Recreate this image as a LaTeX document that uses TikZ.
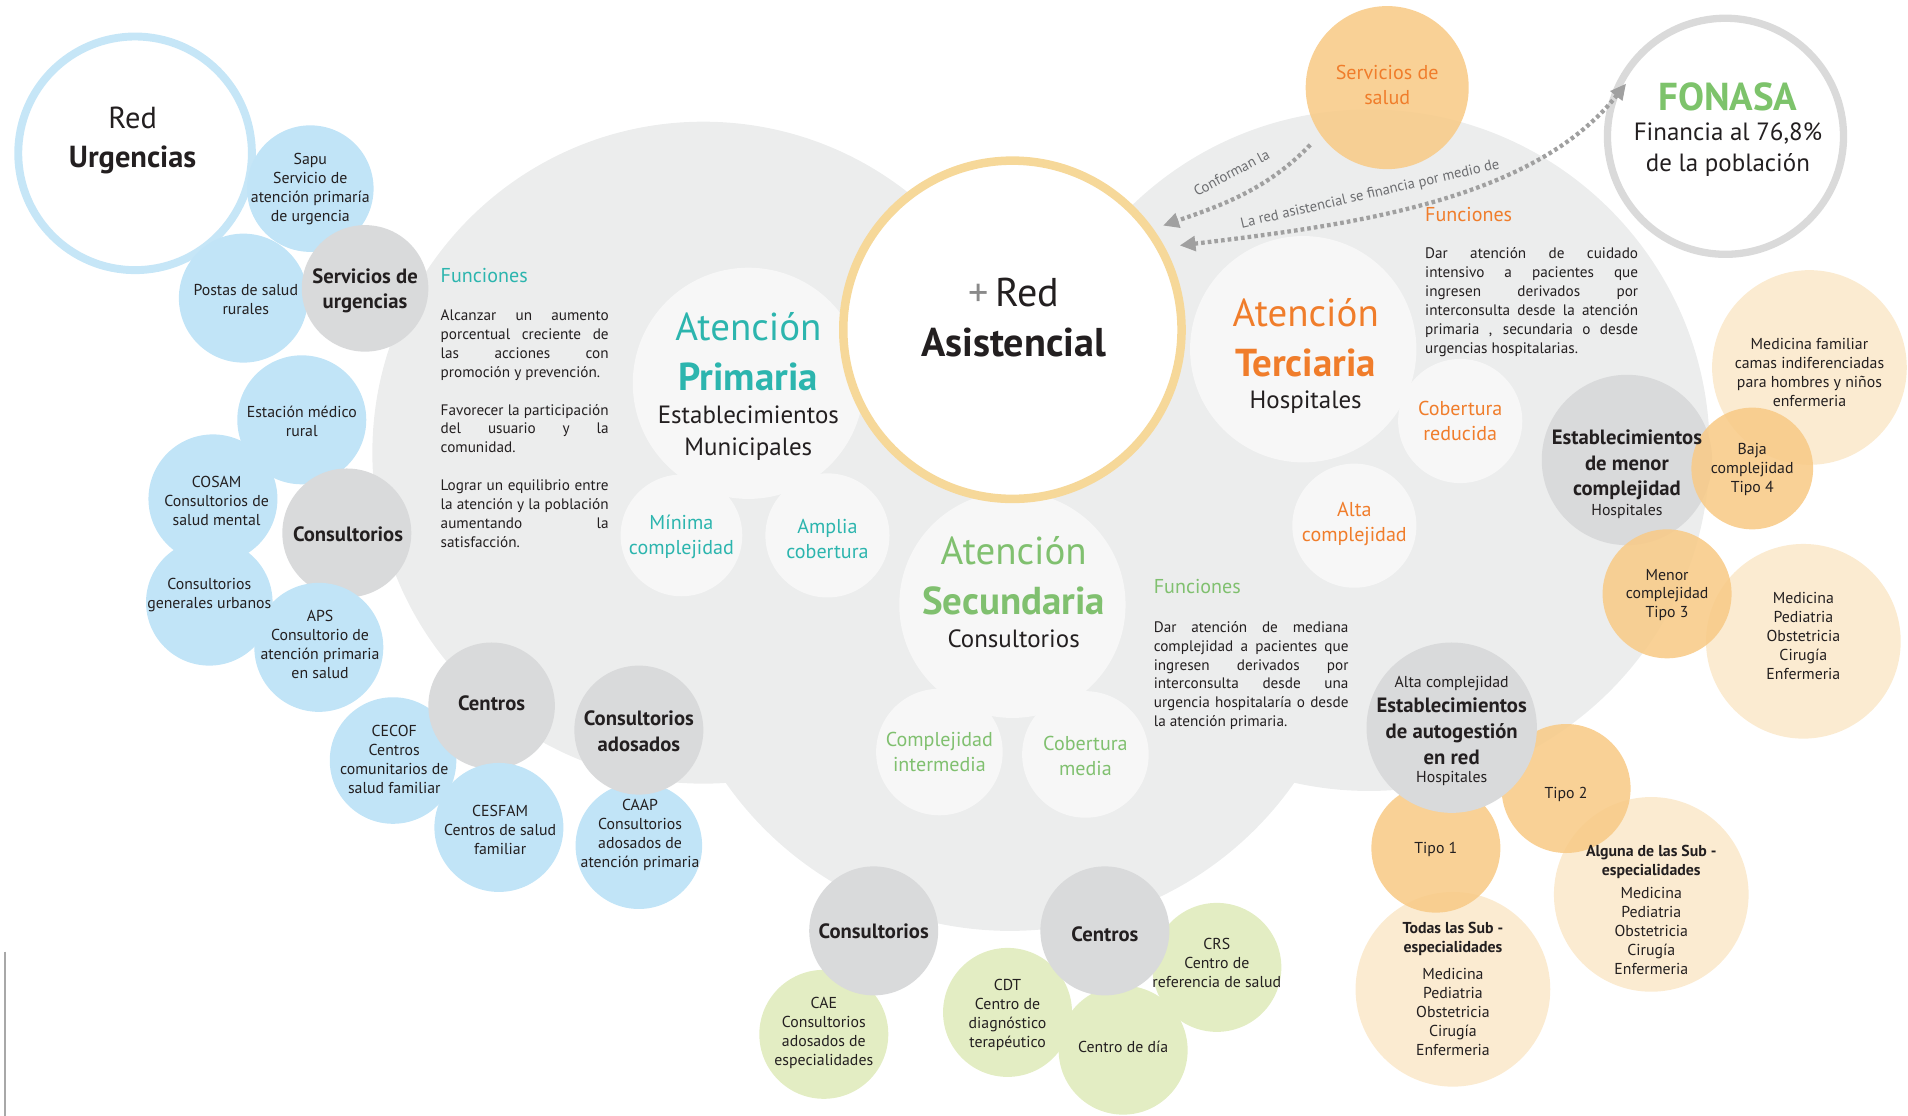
\documentclass[tikz,border=0pt]{standalone}
\usepackage{fontspec}
\setmainfont{PT Sans}
\usetikzlibrary{arrows.meta}
\definecolor{bggrey}{HTML}{ECEDED}
\definecolor{lite}{HTML}{F7F7F7}
\definecolor{dgrey}{HTML}{D9DADB}
\definecolor{cblue}{HTML}{C1E4F7}
\definecolor{ringblue}{HTML}{C6E6F7}
\definecolor{corange}{HTML}{F8CB88}
\definecolor{cpeach}{HTML}{FBEBD1}
\definecolor{cgreen}{HTML}{E3EDC3}
\definecolor{ringgold}{HTML}{F6D899}
\definecolor{ringgrey}{HTML}{DADADA}
\definecolor{cteal}{HTML}{2CB5AE}
\definecolor{cgreentxt}{HTML}{80C06F}
\definecolor{corangetxt}{HTML}{F07D2B}
\definecolor{fonasagreen}{HTML}{7DC36B}
\definecolor{ink}{HTML}{231F20}
\definecolor{plusgrey}{HTML}{8A8A8A}
\definecolor{arrowgrey}{HTML}{A0A0A0}
\definecolor{lblgrey}{HTML}{6D6E71}
\definecolor{vlgrey}{HTML}{A8A8A8}
\newcommand\jst[2]{\makebox[#1][s]{#2}}
\tikzset{mytip/.tip={Triangle[length=13pt,width=12pt]}}
\begin{document}
\begin{tikzpicture}[x=1pt,y=-1pt,
  bub/.style={circle, inner sep=0pt, outer sep=0pt, minimum size=#1},
  blueb/.style={bub=#1, fill=cblue},
  greyb/.style={bub=#1, fill=dgrey},
  orb/.style={bub=#1, fill=corange, fill opacity=0.88},
  peachb/.style={bub=#1, fill=cpeach},
  greenb/.style={bub=#1, fill=cgreen},
  liteb/.style={bub=#1, fill=lite},
  sm/.style={align=center, inner sep=0pt, text=ink, font=\fontsize{13}{15.6}\selectfont},
  smb/.style={align=center, inner sep=0pt, text=ink, font=\fontsize{13}{15.6}\selectfont\bfseries},
  bd/.style={align=center, inner sep=0pt, text=ink, font=\fontsize{17}{21}\selectfont\bfseries},
  para/.style={align=left, inner sep=0pt, anchor=north west, text=ink, font=\fontsize{12.5}{15.5}\selectfont},
  fun/.style={anchor=base west, inner sep=0pt, font=\fontsize{16.5}{20}\selectfont},
  big/.style={anchor=base, inner sep=0pt, font=\fontsize{32}{38}\selectfont},
  bigb/.style={anchor=base, inner sep=0pt, font=\fontsize{32}{38}\selectfont\bfseries},
  subt/.style={anchor=base, inner sep=0pt, text=ink, font=\fontsize{20.5}{24}\selectfont},
  mid/.style={align=center, inner sep=0pt, font=\fontsize{16.5}{20.5}\selectfont},
  lbl/.style={inner sep=0pt, text=lblgrey, font=\fontsize{12}{14}\selectfont},
  dots/.style={draw=arrowgrey, line width=3.5pt, dash pattern=on 3pt off 2.5pt}
]
\useasboundingbox (0,0) rectangle (1568,917);
% background areas
\fill[bggrey] (578,372) circle (272pt);
\fill[bggrey] (830,480) circle (285pt);
\fill[bggrey] (1125,370) circle (280pt);
\draw[vlgrey, line width=1.6pt] (4,782) -- (4,917);

% top right
\node[orb=134pt] (salud) at (1140,72) {};
\node[bub=194pt, draw=ringgrey, line width=6pt, fill=white] (fon) at (1418,112) {};

% left cluster
\node[bub=192pt, draw=ringblue, line width=6.5pt, fill=white] (urg) at (111,126) {};
\node[blueb=104pt] (sapu) at (255,155) {};
\node[blueb=106pt] (postas) at (200,245) {};
\node[blueb=106pt] (estacion) at (248,345) {};
\node[blueb=106pt] (cosam) at (175,410) {};
\node[blueb=104pt] (urbanos) at (172,495) {};
\node[blueb=104pt] (cecof) at (323,625) {};
\node[blueb=104pt] (caap) at (525,695) {};
\node[greyb=104pt] (servurg) at (300,237) {};
\node[greyb=106pt] (cons1) at (285,438) {};
\node[blueb=106pt] (aps) at (262,532) {};
\node[greyb=104pt] (centros1) at (404,580) {};
\node[blueb=106pt] (cesfam) at (410,680) {};
\node[greyb=106pt] (adosados) at (525,600) {};

% central white circles
\node[liteb=190pt] (prim) at (615,315) {};
\node[liteb=100pt] (mini) at (560,440) {};
\node[liteb=102pt] (amp) at (680,440) {};
\node[liteb=186pt] (sec) at (832,497) {};
\node[liteb=104pt] (cint) at (772,618) {};
\node[liteb=104pt] (cmed) at (892,620) {};
\node[liteb=186pt] (ter) at (1071,287) {};
\node[liteb=102pt] (cred) at (1200,346) {};
\node[liteb=102pt] (alta) at (1113,432) {};
\node[bub=278pt, draw=ringgold, line width=7pt, fill=white] (red) at (832,271) {};

% right cluster
\node[peachb=160pt] (medfam) at (1487,302) {};
\node[peachb=160pt] (med2) at (1482,527) {};
\node[peachb=160pt] (alguna) at (1357,735) {};
\node[peachb=160pt] (todas) at (1194,813) {};
\node[greyb=140pt] (menor) at (1337,378) {};
\node[orb=100pt] (baja) at (1440,385) {};
\node[orb=106pt] (tipo3) at (1370,488) {};
\node[orb=106pt] (tipo2) at (1287,648) {};
\node[orb=106pt] (tipo1) at (1180,697) {};
\node[greyb=140pt] (auto) at (1193,598) {};

% bottom cluster
\node[greenb=106pt] (crs) at (1000,795) {};
\node[greenb=106pt] (cdt) at (828,832) {};
\node[greenb=106pt] (dia) at (923,863) {};
\node[greenb=106pt] (cae) at (677,850) {};
\node[greyb=106pt] (cons2) at (718,765) {};
\node[greyb=106pt] (centros2) at (908,765) {};

% connectors
\draw[dots, -{mytip}, shorten <=12pt, shorten >=12pt]
  (salud.215) to[out=226,in=19] (red.36);
\draw[dots, {mytip}-{mytip}, shorten <=16pt, shorten >=-17pt]
  (red.29) .. controls (1110,185) and (1260,165) .. (fon.162);
\node[lbl, rotate=28] (lbl1) at (1012,142) {Conforman la};
\node[lbl, rotate=13] (lbl2) at (1126,160) {La red asistencial se financia por medio de};

% texts left
\node[anchor=base, inner sep=0pt, text=ink, font=\fontsize{25}{30}\selectfont] (urg-a) at (109,106) {Red};
\node[anchor=base, inner sep=0pt, text=ink, font=\fontsize{25}{30}\selectfont\bfseries] (urg-b) at (109,138) {Urgencias};
\node[sm] (sapu-t) at (255,155) {Sapu\\Servicio de\\atención primaría\\de urgencia};
\node[sm] (postas-t) at (202,246) {Postas de salud\\rurales};
\node[bd] (servurg-t) at (300,239) {Servicios de\\urgencias};
\node[sm] (estacion-t) at (248,346) {Estación médico\\rural};
\node[sm] (cosam-t) at (178,412) {COSAM\\Consultorios de\\salud mental};
\node[bd] (cons1-t) at (286,439) {Consultorios};
\node[sm] (urbanos-t) at (172,489) {Consultorios\\generales urbanos};
\node[sm] (aps-t) at (263,530) {APS\\Consultorio de\\atención primaria\\en salud};
\node[bd] (centros1-t) at (404,578) {Centros};
\node[sm] (cecof-t) at (324,624) {CECOF\\Centros\\comunitarios de\\salud familiar};
\node[sm] (cesfam-t) at (411,682) {CESFAM\\Centros de salud\\familiar};
\node[bd] (adosados-t) at (525,601) {Consultorios\\adosados};
\node[sm] (caap-t) at (526,686) {CAAP\\Consultorios\\adosados de\\atención primaria};

% primary functions
\node[fun, text=cteal] (fp) at (362,232) {Funciones};
\node[para] (fp-t) at (362,254.5) {\jst{138pt}{Alcanzar un aumento}\\
\jst{138pt}{porcentual creciente de}\\
\jst{138pt}{las acciones con}\\
promoción y prevención.\\[15.5pt]
\jst{138pt}{Favorecer la participación}\\
\jst{138pt}{del usuario y la}\\
comunidad.\\[15.5pt]
\jst{138pt}{Lograr un equilibrio entre}\\
\jst{138pt}{la atención y la población}\\
\jst{138pt}{aumentando la}\\
satisfacción.};

% central texts
\node[big, text=cteal] (prim-a) at (615,280) {Atención};
\node[bigb, text=cteal] (prim-b) at (615,321) {Primaria};
\node[subt] (prim-c) at (615,348) {Establecimientos};
\node[subt] (prim-d) at (615,374) {Municipales};
\node[mid, text=cteal] (mini-t) at (560,441) {Mínima\\complejidad};
\node[mid, text=cteal] (amp-t) at (680,443) {Amplia\\cobertura};
\node[anchor=base, inner sep=0pt, text=ink, font=\fontsize{33}{38}\selectfont] (red-a) at (833,252) {\textcolor{plusgrey}{+}\,Red};
\node[anchor=base, inner sep=0pt, text=ink, font=\fontsize{33}{38}\selectfont\bfseries] (red-b) at (833,293) {Asistencial};
\node[big, text=cgreentxt] (sec-a) at (833,464) {Atención};
\node[bigb, text=cgreentxt] (sec-b) at (833,505) {Secundaria};
\node[subt] (sec-c) at (833,532) {Consultorios};
\node[mid, text=cgreentxt] (cint-t) at (772,618) {Complejidad\\intermedia};
\node[mid, text=cgreentxt] (cmed-t) at (892,621) {Cobertura\\media};
\node[big, text=corangetxt] (ter-a) at (1073,268) {Atención};
\node[bigb, text=corangetxt] (ter-b) at (1073,309) {Terciaria};
\node[subt] (ter-c) at (1073,336) {Hospitales};
\node[mid, text=corangetxt] (cred-t) at (1200,346) {Cobertura\\reducida};
\node[mid, text=corangetxt] (alta-t) at (1113,431) {Alta\\complejidad};

% secondary functions
\node[fun, text=cgreentxt] (fs) at (948,488) {Funciones};
\node[para] (fs-t) at (948,510.5) {\jst{160pt}{Dar atención de mediana}\\
\jst{160pt}{complejidad a pacientes que}\\
\jst{160pt}{ingresen derivados por}\\
\jst{160pt}{interconsulta desde una}\\
\jst{160pt}{urgencia hospitalaría o desde}\\
la atención primaria.};

% tertiary functions
\node[fun, text=corangetxt] (ft) at (1171,182) {Funciones};
\node[para] (ft-t) at (1171,203.5) {\jst{175pt}{Dar atención de cuidado}\\
\jst{175pt}{intensivo a pacientes que}\\
\jst{175pt}{ingresen derivados por}\\
\jst{175pt}{interconsulta desde la atención}\\
\jst{175pt}{primaria , secundaria o desde}\\
urgencias hospitalarias.};

% top right texts
\node[mid, text=corangetxt] (salud-t) at (1140,70) {Servicios de\\salud};
\node[anchor=base, inner sep=0pt, text=fonasagreen, font=\fontsize{32}{38}\selectfont\bfseries] (fon-a) at (1420,91) {FONASA};
\node[align=center, inner sep=0pt, text=ink, font=\fontsize{20.5}{26}\selectfont] (fon-b) at (1420,123) {Financia al 76,8\%\\de la población};

% right texts
\node[bd] (menor-t) at (1337,382) {Establecimientos\\de menor\\complejidad};
\node[sm] (menor-h) at (1337,420) {Hospitales};
\node[sm] (medfam-t) at (1487,306) {Medicina familiar\\camas indiferenciadas\\para hombres y niños\\enfermeria};
\node[sm] (baja-t) at (1440,386) {Baja\\complejidad\\Tipo 4};
\node[sm] (tipo3-t) at (1370,489) {Menor\\complejidad\\Tipo 3};
\node[sm] (med2-t) at (1482,523) {Medicina\\Pediatria\\Obstetricia\\Cirugía\\Enfermeria};
\node[sm] (auto-a) at (1193,562) {Alta complejidad};
\node[bd] (auto-t) at (1193,601) {Establecimientos\\de autogestión\\en red};
\node[sm] (auto-h) at (1193,640) {Hospitales};
\node[sm] (tipo2-t) at (1287,653) {Tipo 2};
\node[sm] (tipo1-t) at (1180,698) {Tipo 1};
\node[smb] (alguna-a) at (1357,708) {Alguna de las Sub -\\especialidades};
\node[sm] (alguna-t) at (1357,765) {Medicina\\Pediatria\\Obstetricia\\Cirugía\\Enfermeria};
\node[smb] (todas-a) at (1194,772) {Todas las Sub -\\especialidades};
\node[sm] (todas-t) at (1194,832) {Medicina\\Pediatria\\Obstetricia\\Cirugía\\Enfermeria};

% bottom texts
\node[bd] (cons2-t) at (718,765) {Consultorios};
\node[sm] (cae-t) at (677,849) {CAE\\Consultorios\\adosados de\\especialidades};
\node[bd] (centros2-t) at (908,768) {Centros};
\node[sm] (cdt-t) at (828,834) {CDT\\Centro de\\diagnóstico\\terapéutico};
\node[sm] (crs-t) at (1000,791) {CRS\\Centro de\\referencia de salud};
\node[sm] (dia-t) at (923,860) {Centro de día};
\end{tikzpicture}
\end{document}
